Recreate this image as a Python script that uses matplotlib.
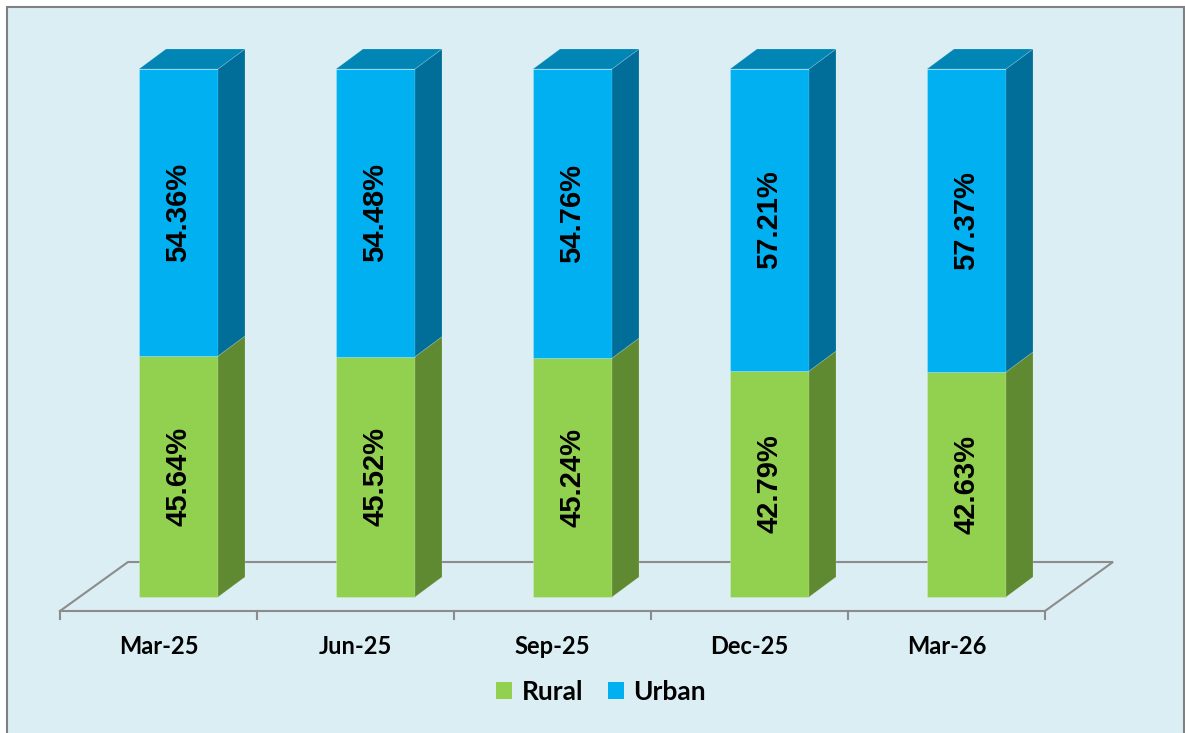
import matplotlib.pyplot as plt
from matplotlib.patches import Polygon, Rectangle, Patch

# data
quarters = ['Mar-25', 'Jun-25', 'Sep-25', 'Dec-25', 'Mar-26']
rural = [45.64, 45.52, 45.24, 42.79, 42.63]
urban = [54.36, 54.48, 54.76, 57.21, 57.37]

bg = '#DAEEF3'
rural_front, rural_side = '#92D050', '#5F8A31'
urban_front, urban_side, urban_top = '#00B0F0', '#006E99', '#0085B5'
grid_col = '#8C8C8C'

fig = plt.figure(figsize=(11.85, 7.33), dpi=100)
fig.patch.set_facecolor('white')

# chart frame
fig.patches.append(Rectangle((7 / 1185, -0.02), 1177 / 1185, 1.02 - 7 / 733,
                             transform=fig.transFigure, facecolor=bg,
                             edgecolor='#808080', linewidth=1.5, zorder=-5))

ax = fig.add_axes([0, 0, 1, 1])
ax.set_facecolor('none')
# one category step = 197 px, 1 % = 5.28 px
ax.set_xlim(-158.5 / 197, (1185 - 158.5) / 197)
ax.set_ylim((597 - 733) / 5.28, 597 / 5.28)
ax.axis('off')

n = len(quarters)
bar_off, bar_w = -19.5 / 197, 79 / 197
dx, dy = 27 / 197, 20 / 5.28          # bar depth
fdx, fdy = 68 / 197, 49 / 5.28        # floor depth
f_front = -14 / 5.28

# floor
x0, x1 = -0.5, n - 0.5
ax.plot([x0, x0 + fdx, x1 + fdx, x1], [f_front, f_front + fdy, f_front + fdy, f_front],
        color=grid_col, lw=1.5, zorder=1, solid_joinstyle='miter')
ax.plot([x0, x1], [f_front, f_front], color=grid_col, lw=1.5, zorder=1)
for i in range(n + 1):
    ax.plot([i - 0.5, i - 0.5], [f_front, f_front - 8 / 5.28], color=grid_col, lw=1.5, zorder=1)


def box(xl, yb, yt, front, side, top=None):
    xr = xl + bar_w
    ax.add_patch(Polygon([(xl, yb), (xr, yb), (xr, yt), (xl, yt)], closed=True,
                         facecolor=front, edgecolor='#FFFFFF40', lw=0.6, zorder=2))
    ax.add_patch(Polygon([(xr, yb), (xr + dx, yb + dy), (xr + dx, yt + dy), (xr, yt)], closed=True,
                         facecolor=side, edgecolor='#FFFFFF30', lw=0.6, zorder=2))
    if top is not None:
        ax.add_patch(Polygon([(xl, yt), (xr, yt), (xr + dx, yt + dy), (xl + dx, yt + dy)], closed=True,
                             facecolor=top, edgecolor='#FFFFFF30', lw=0.6, zorder=2))


for i in range(n):
    xl = i + bar_off
    box(xl, 0, rural[i], rural_front, rural_side)
    box(xl, rural[i], rural[i] + urban[i], urban_front, urban_side, urban_top)
    xc = xl + bar_w / 2
    ax.text(xc, rural[i] / 2, f'{rural[i]:.2f}%', rotation=90, ha='center', va='center',
            fontsize=21, fontweight='bold', family='Liberation Sans', color='black', zorder=3)
    ax.text(xc, rural[i] + urban[i] / 2, f'{urban[i]:.2f}%', rotation=90, ha='center', va='center',
            fontsize=21, fontweight='bold', family='Liberation Sans', color='black', zorder=3)
    ax.text(i, (597 - 646) / 5.28, quarters[i], ha='center', va='center',
            fontsize=17, fontweight='bold', family='Lato', color='black')

handles = [Patch(facecolor=rural_front, label='Rural'), Patch(facecolor=urban_front, label='Urban')]
fig.legend(handles=handles, loc='center', bbox_to_anchor=(601 / 1185, 1 - 692 / 733), ncol=2,
           frameon=False, handlelength=0.62, handleheight=0.62, handletextpad=0.35,
           columnspacing=0.95, prop={'family': 'Lato', 'weight': 'bold', 'size': 19})

fig.savefig('out.png', dpi=100)
